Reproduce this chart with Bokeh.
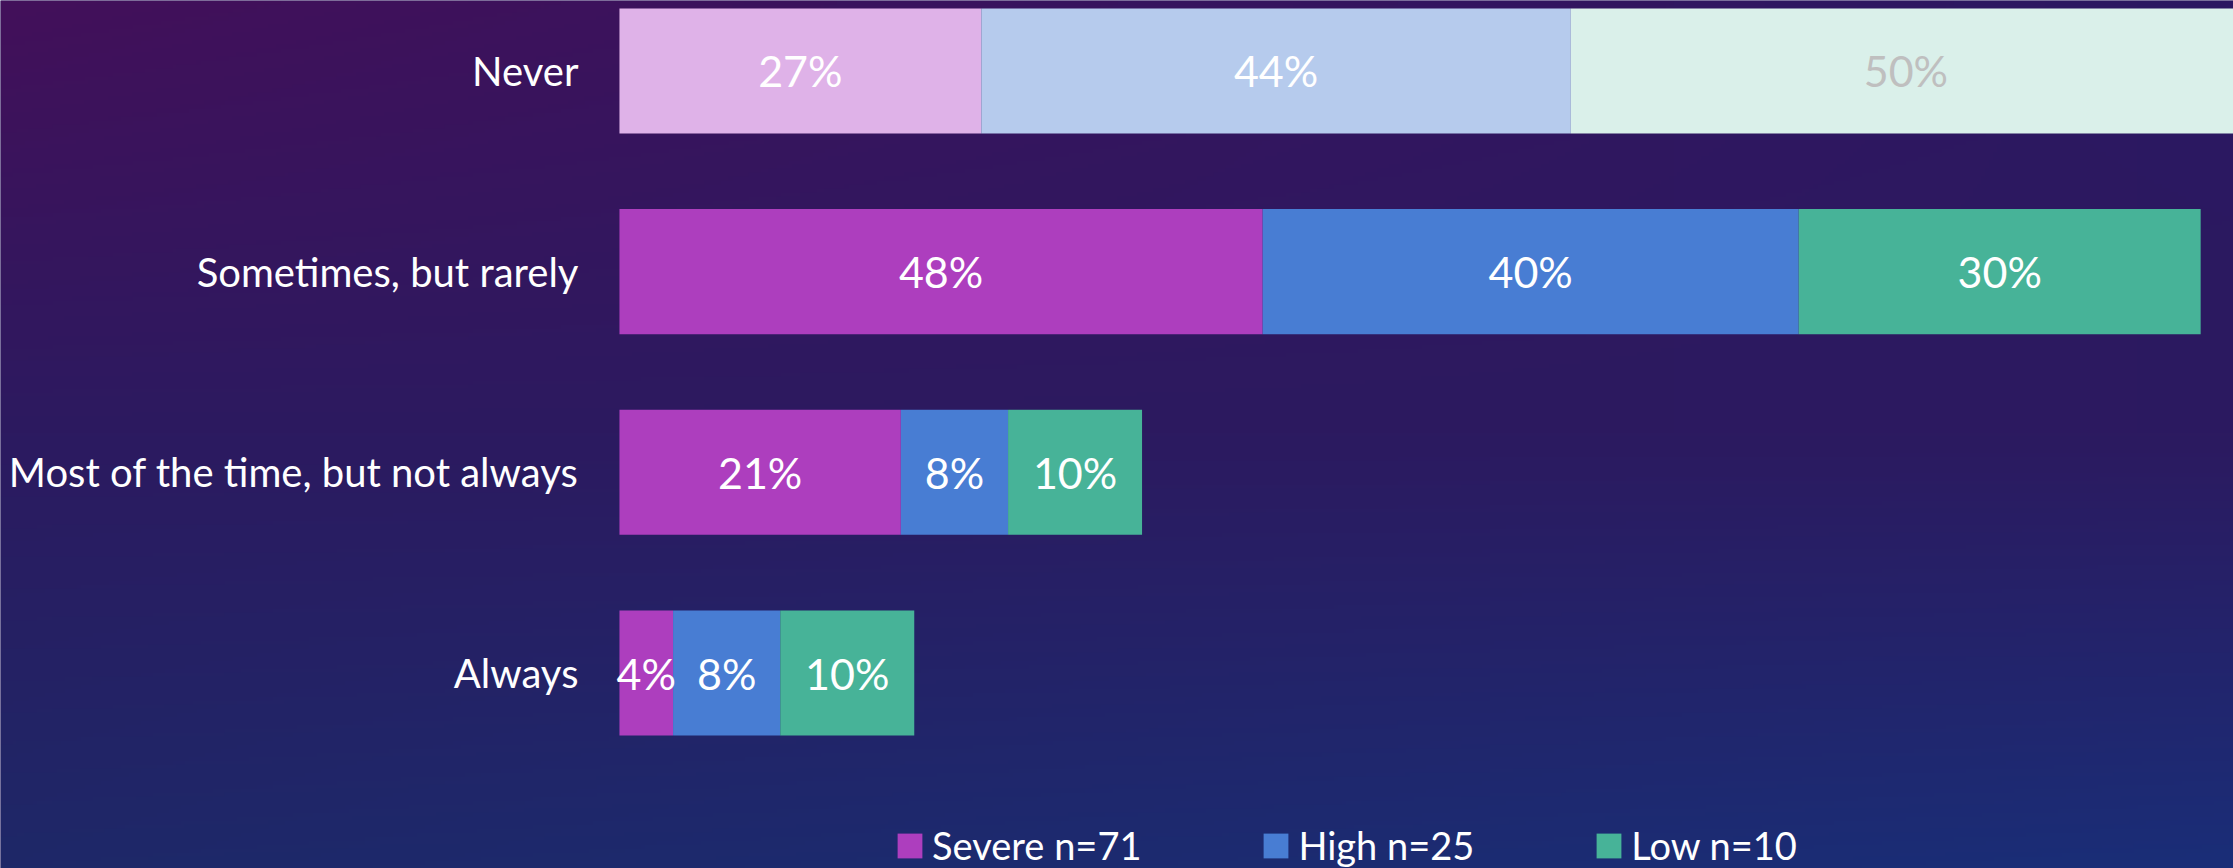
import numpy as np
from bokeh.plotting import figure
from bokeh.models import ColumnDataSource, Range1d, Legend, LegendItem
from bokeh.core.properties import value
from bokeh.embed import file_html
from bokeh.resources import INLINE

# ---- data ----
categories = ["Never", "Sometimes, but rarely", "Most of the time, but not always", "Always"]
severe = [27, 48, 21, 4]
high = [44, 40, 8, 8]
low = [50, 30, 10, 10]
series_keys = ["severe", "high", "low"]
series_labels = ["Severe n=71", "High n=25", "Low n=10"]

# ---- styles ----
dark_colors = ["#AD3EBE", "#487DD3", "#47B398"]
light_colors = ["#DFB2E8", "#B6CBED", "#DAF0EA"]
FONT = "Lato"

n = len(categories)
ys = [n - 1 - i for i in range(n)]
highlight = [c == "Never" for c in categories]

data = dict(cat=categories, y=ys, severe=severe, high=high, low=low)
for k, dc, lc in zip(series_keys, dark_colors, light_colors):
    data[k + "_color"] = [lc if h else dc for h in highlight]
src = ColumnDataSource(data)

W, H = 2233, 868
x0, x1 = -46.19, 120.45
y0, y1 = -0.974, 3.351

p = figure(width=W, height=H, output_backend="svg", toolbar_location=None,
           x_range=Range1d(x0, x1), y_range=Range1d(y0, y1),
           min_border=0, min_border_left=0, min_border_right=0,
           min_border_top=0, min_border_bottom=0)
p.axis.visible = False
p.grid.visible = False
p.outline_line_color = None
p.border_fill_color = "#2B1C63"
p.background_fill_color = "#2B1C63"

# background gradient (decorative)
gh, gw = 217, 558
yy = np.linspace(0, 1, gh)[:, None]   # 0 bottom -> 1 top
xx = np.linspace(0, 1, gw)[None, :]
def c(h):
    return np.array([int(h[i:i + 2], 16) for i in (1, 3, 5)], dtype=float)
TL, TR, BL, BR = c("#43105A"), c("#2B1862"), c("#1E2868"), c("#1A2E78")
top = TL[None, None, :] * (1 - xx[..., None]) + TR[None, None, :] * xx[..., None]
bot = BL[None, None, :] * (1 - xx[..., None]) + BR[None, None, :] * xx[..., None]
mid = c("#2C1A60")
t = yy[..., None]
rgb = np.where(t > 0.5,
               mid[None, None, :] * (1 - (t - 0.5) * 2) + top * ((t - 0.5) * 2),
               bot * (1 - t * 2) + mid[None, None, :] * (t * 2))
img = np.empty((gh, gw), dtype=np.uint32)
view = img.view(dtype=np.uint8).reshape((gh, gw, 4))
view[..., 0] = rgb[..., 0].astype(np.uint8)
view[..., 1] = rgb[..., 1].astype(np.uint8)
view[..., 2] = rgb[..., 2].astype(np.uint8)
view[..., 3] = 255
p.image_rgba(image=[img], x=x0, y=y0, dw=x1 - x0, dh=y1 - y0)

renderers = p.hbar_stack(series_keys, y="y", height=0.623, source=src,
                         fill_color=[k + "_color" for k in series_keys],
                         line_color=None)

# value labels
lefts = np.zeros(n)
for k in series_keys:
    vals = np.array(data[k], dtype=float)
    centers = lefts + vals / 2
    lefts = lefts + vals
    txt_colors = ["#BFBFBF" if (h and k == "low") else "white" for h in highlight]
    lsrc = ColumnDataSource(dict(x=centers, y=ys, t=[f"{v}%" for v in data[k]], col=txt_colors))
    p.text(x="x", y="y", text="t", source=lsrc, text_color="col",
           text_font=value(FONT), text_font_size="43px",
           text_align="center", text_baseline="middle")

# category labels
p.text(x=0, y="y", text="cat", source=src, x_offset=-41,
       text_color="white", text_font=value(FONT), text_font_size="40px",
       text_align="right", text_baseline="middle")

items = [LegendItem(label=lab, renderers=[r], index=1)
         for lab, r in zip(series_labels, renderers)]
legend = Legend(items=items, orientation="horizontal", location=(894, 0),
                label_text_font=FONT, label_text_font_size="38px",
                label_text_color="white", glyph_width=31, glyph_height=31,
                label_standoff=7, spacing=119, padding=0, margin=0,
                border_line_alpha=0, background_fill_alpha=0)
p.add_layout(legend)

open("out.html", "w").write(file_html(p, INLINE))
